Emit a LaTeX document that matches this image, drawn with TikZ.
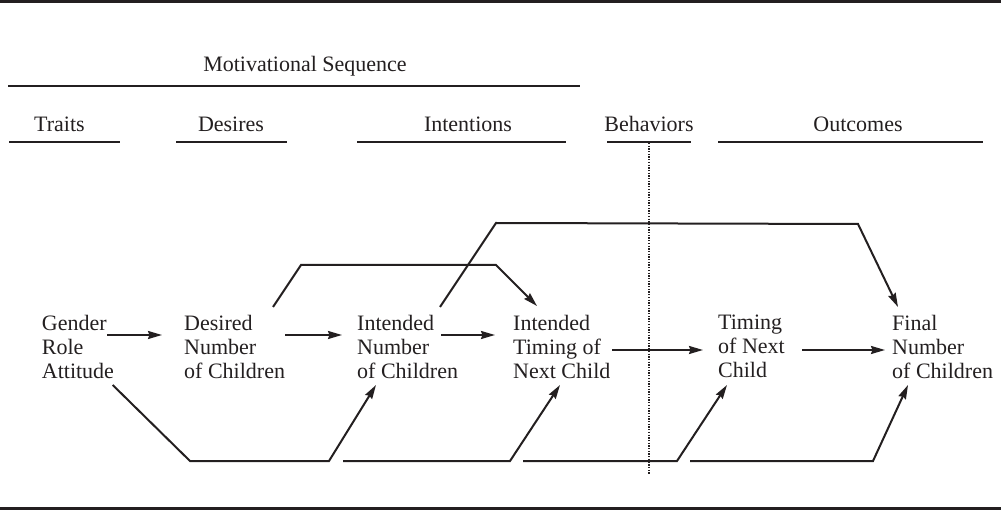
\documentclass[tikz,border=0pt]{standalone}
\usepackage{fontspec}
\setmainfont{Liberation Serif}
\usetikzlibrary{calc,arrows.meta}
\definecolor{ink}{RGB}{35,31,32}

\begin{document}
\begin{tikzpicture}[x=1pt,y=-1pt,>={Stealth[length=14pt,width=8pt,inset=1.5pt]},
	every node/.style={font=\fontsize{22}{24}\selectfont,text=ink,inner sep=0pt},
	box/.style={anchor=north west,align=left},
	head/.style={anchor=base},
	conn/.style={draw=ink,line width=2pt,line join=miter},
	rulebar/.style={draw=ink,line width=2.5pt}]
	\useasboundingbox (0,0) rectangle (1001,510);
	% frame rules
	\draw[rulebar,line width=3pt] (0,1.5)--(1001,1.5) (0,508)--(1001,508);
	% headings
	\node[head] (mot) at (305,72) {Motivational Sequence};
	\node[head] (trt) at (59.5,132) {Traits};
	\node[head] (des) at (231,132) {Desires};
	\node[head] (int) at (468,132) {Intentions};
	\node[head] (beh) at (649,132) {Behaviors};
	\node[head] (out) at (858,132) {Outcomes};
	\draw[rulebar] (8,86)--(580,86);
	\draw[rulebar] (9,142)--(120,142) (176,142)--(287,142) (357,142)--(566,142)
		(607,142)--(691,142) (718,142)--(983,142);
	\draw[ink,line width=1.3pt,dash pattern=on 1.3pt off 1.4pt] (beh |- 0,143)--(beh |- 0,475);
	% variables
	\node[box] (gra) at (41.7,315) {Gender\\Role\\Attitude};
	\node[box] (dnc) at (184,315) {Desired\\Number\\of Children};
	\node[box] (inc) at (357,315) {Intended\\Number\\of Children};
	\node[box] (itn) at (513,315) {Intended\\Timing of\\Next Child};
	\node[box] (tnc) at (718,315) {Timing\\of Next\\Child};
	\node[box] (fnc) at (892,315) {Final\\Number\\of Children};
	% direct paths
	\draw[conn,->] ($(gra.north west)+(65.3,20)$)--($(dnc.north west)+(-22,20)$);
	\draw[conn,->] ($(dnc.north west)+(101,20)$)--($(inc.north west)+(-15,20)$);
	\draw[conn,->] ($(inc.north west)+(84,20)$)--($(itn.north west)+(-18,20)$);
	\draw[conn,->] ($(itn.north west)+(99,35)$)--($(tnc.north west)+(-15,35)$);
	\draw[conn,->] ($(tnc.north west)+(84,35)$)--($(fnc.north west)+(-7,35)$);
	% paths over the top
	\draw[conn,->] ($(dnc.north west)+(89,-8)$)--(301,265)--(496,265)--($(itn.north west)+(24,-9)$);
	\draw[conn,->] ($(inc.north west)+(83,-8)$)--(496,223)--(858,224)--($(fnc.north west)+(6,-8)$);
	% paths from gender role attitude below
	\coordinate (bus2) at (343,461);
	\coordinate (bus3) at (523,461);
	\coordinate (bus4) at (690,461);
	\draw[conn,->] ($(gra.north west)+(71,70)$)--(190,461)--(329,461)--($(inc.north west)+(19,70)$);
	\draw[conn,->] (bus2)--(510,461)--($(itn.north west)+(47,70)$);
	\draw[conn,->] (bus3)--(677,461)--($(tnc.north west)+(9,70)$);
	\draw[conn,->] (bus4)--(873,461)--($(fnc.north west)+(16,70)$);
\end{tikzpicture}
\end{document}
